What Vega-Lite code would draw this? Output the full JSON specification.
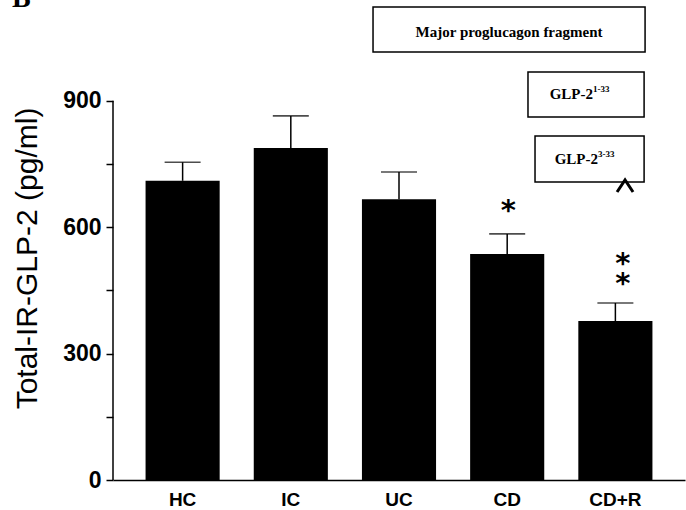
{
  "$schema": "https://vega.github.io/schema/vega-lite/v6.json",
  "width": 572,
  "height": 480,
  "autosize": {"type": "none"},
  "padding": {"left": 113, "top": 0, "right": 1, "bottom": 30},
  "background": "white",
  "config": {"view": {"stroke": null}},
  "datasets": {
    "bars": [
      {"group": "HC", "value": 710, "upper": 754},
      {"group": "IC", "value": 788, "upper": 864},
      {"group": "UC", "value": 666, "upper": 731},
      {"group": "CD", "value": 536, "upper": 584},
      {"group": "CD+R", "value": 377, "upper": 420}
    ],
    "stars": [
      {"group": "CD", "y": 658, "mark": ["*"]},
      {"group": "CD+R", "y": 531, "mark": ["*", "*"]}
    ],
    "boxes": [
      {"x1": 2.761, "x2": 5.275, "y1": 1015.6, "y2": 1122.3},
      {"x1": 4.193, "x2": 5.266, "y1": 861.3, "y2": 968},
      {"x1": 4.258, "x2": 5.266, "y1": 707.1, "y2": 816.3}
    ],
    "heading": [
      {"x": 4.018, "y": 1063, "text": "Major proglucagon fragment"}
    ],
    "glp": [
      {"x": 4.794, "y": 915.8, "main": "GLP-2", "sup": "1-33"},
      {"x": 4.84, "y": 761.7, "main": "GLP-2", "sup": "3-33"}
    ],
    "caret": [{"x": 5.09, "y": 697.6}],
    "panel": [{"x": -0.575, "y": 1122, "text": "B"}],
    "yline": [{"x": 0.358, "y0": 0, "y1": 900}]
  },
  "resolve": {"scale": {"x": "independent"}, "axis": {"x": "independent"}},
  "layer": [
    {
      "data": {"name": "bars"},
      "mark": {"type": "bar", "color": "black"},
      "encoding": {
        "x": {
          "field": "group", "type": "nominal", "sort": null,
          "scale": {"paddingInner": 0.315, "paddingOuter": 0.301},
          "axis": {
            "title": null, "labelAngle": 0, "domain": true, "domainColor": "black",
            "domainWidth": 1.5, "ticks": false, "tickSize": 0, "labelPadding": 10,
            "labelFont": "Liberation Sans", "labelFontWeight": "bold",
            "labelFontSize": 19, "labelColor": "black"
          }
        },
        "y": {
          "field": "value", "type": "quantitative",
          "scale": {"domain": [0, 1139], "nice": false, "zero": true},
          "axis": {
            "values": [0, 150, 300, 450, 600, 750, 900],
            "labelExpr": "datum.value % 300 == 0 ? datum.label : ''",
            "domain": false, "grid": false,
            "tickColor": "black", "tickWidth": 1.5, "tickSize": 7,
            "labelPadding": 5, "labelFont": "Liberation Sans",
            "labelFontWeight": "bold", "labelFontSize": 23, "labelColor": "black",
            "title": "Total-IR-GLP-2 (pg/ml)", "titleFont": "Liberation Sans",
            "titleFontSize": 30, "titleFontWeight": "normal", "titleColor": "black",
            "titleX": -86, "titleY": 258, "titleAngle": -90,
            "titleAlign": "center", "titleBaseline": "middle"
          }
        }
      }
    },
    {
      "data": {"name": "bars"},
      "mark": {"type": "rule", "color": "black", "strokeWidth": 1.5},
      "encoding": {
        "x": {"field": "group", "type": "nominal", "sort": null,
              "scale": {"paddingInner": 0.315, "paddingOuter": 0.301}, "axis": null},
        "y": {"field": "value", "type": "quantitative"},
        "y2": {"field": "upper"}
      }
    },
    {
      "data": {"name": "bars"},
      "mark": {"type": "tick", "color": "black", "size": 36, "thickness": 1.6},
      "encoding": {
        "x": {"field": "group", "type": "nominal", "sort": null,
              "scale": {"paddingInner": 0.315, "paddingOuter": 0.301}, "axis": null},
        "y": {"field": "upper", "type": "quantitative"}
      }
    },
    {
      "data": {"name": "stars"},
      "mark": {"type": "text", "font": "DejaVu Sans", "fontWeight": "bold",
               "fontSize": 29, "lineHeight": 19.5, "baseline": "alphabetic",
               "dy": 17, "dx": -5, "color": "black"},
      "encoding": {
        "x": {"field": "group", "type": "nominal",
              "scale": {"domain": ["HC", "IC", "UC", "CD", "CD+R"], "paddingInner": 0.315, "paddingOuter": 0.301}, "axis": null},
        "y": {"field": "y", "type": "quantitative"},
        "text": {"field": "mark"}
      }
    },
    {
      "data": {"name": "boxes"},
      "mark": {"type": "rect", "fill": "white", "stroke": "black", "strokeWidth": 1.5},
      "encoding": {
        "x": {"field": "x1", "type": "quantitative",
              "scale": {"domain": [0.358, 5.644], "nice": false, "zero": false}, "axis": null},
        "x2": {"field": "x2"},
        "y": {"field": "y1", "type": "quantitative"},
        "y2": {"field": "y2"}
      }
    },
    {
      "data": {"name": "heading"},
      "mark": {"type": "text", "font": "Liberation Serif", "fontWeight": "bold",
               "fontSize": 15, "align": "center", "baseline": "middle", "color": "black"},
      "encoding": {
        "x": {"field": "x", "type": "quantitative",
              "scale": {"domain": [0.358, 5.644], "nice": false, "zero": false}, "axis": null},
        "y": {"field": "y", "type": "quantitative"},
        "text": {"field": "text"}
      }
    },
    {
      "data": {"name": "glp"},
      "mark": {"type": "text", "font": "Liberation Serif", "fontWeight": "bold",
               "fontSize": 15, "align": "right", "baseline": "middle", "color": "black"},
      "encoding": {
        "x": {"field": "x", "type": "quantitative",
              "scale": {"domain": [0.358, 5.644], "nice": false, "zero": false}, "axis": null},
        "y": {"field": "y", "type": "quantitative"},
        "text": {"field": "main"}
      }
    },
    {
      "data": {"name": "glp"},
      "mark": {"type": "text", "font": "Liberation Serif", "fontWeight": "bold",
               "fontSize": 9, "align": "left", "baseline": "middle", "dy": -5, "color": "black"},
      "encoding": {
        "x": {"field": "x", "type": "quantitative",
              "scale": {"domain": [0.358, 5.644], "nice": false, "zero": false}, "axis": null},
        "y": {"field": "y", "type": "quantitative"},
        "text": {"field": "sup"}
      }
    },
    {
      "data": {"name": "caret"},
      "mark": {"type": "point", "shape": "M-1,0.75L0,-0.75L1,0.75", "filled": false,
               "stroke": "black", "strokeWidth": 3, "size": 256, "opacity": 1},
      "encoding": {
        "x": {"field": "x", "type": "quantitative",
              "scale": {"domain": [0.358, 5.644], "nice": false, "zero": false}, "axis": null},
        "y": {"field": "y", "type": "quantitative"}
      }
    },
    {
      "data": {"name": "panel"},
      "mark": {"type": "text", "font": "Liberation Serif", "fontWeight": "bold",
               "fontSize": 28, "align": "left", "baseline": "alphabetic", "color": "black"},
      "encoding": {
        "x": {"field": "x", "type": "quantitative",
              "scale": {"domain": [0.358, 5.644], "nice": false, "zero": false}, "axis": null},
        "y": {"field": "y", "type": "quantitative"},
        "text": {"field": "text"}
      }
    },
    {
      "data": {"name": "yline"},
      "mark": {"type": "rule", "color": "black", "strokeWidth": 1.5},
      "encoding": {
        "x": {"field": "x", "type": "quantitative",
              "scale": {"domain": [0.358, 5.644], "nice": false, "zero": false}, "axis": null},
        "y": {"field": "y0", "type": "quantitative"},
        "y2": {"field": "y1"}
      }
    }
  ]
}
